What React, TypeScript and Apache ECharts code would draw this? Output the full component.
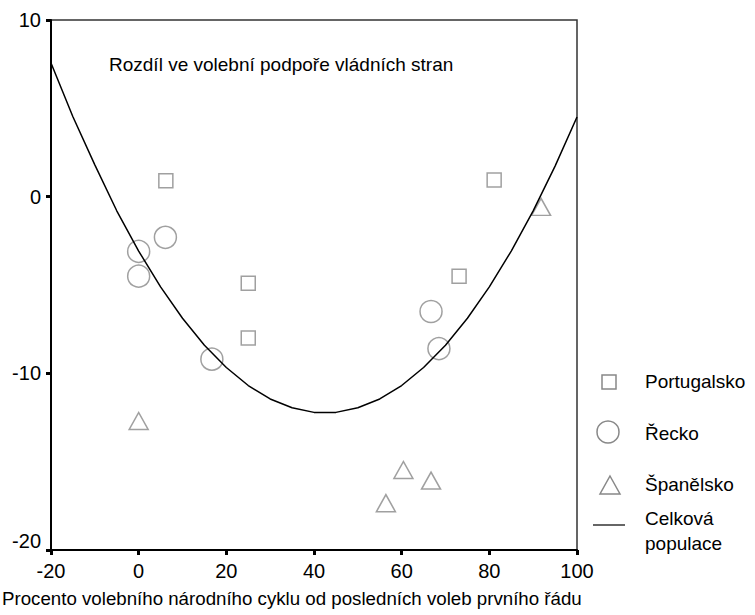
import React, { useEffect, useRef } from "react";
import * as echarts from "echarts";

const xTicks = [-20, 0, 20, 40, 60, 80, 100];
const yTicks = [-20, -10, 0, 10];

const portugalsko: [number, number][] = [
  [6.2, 0.9],
  [25, -4.9],
  [25, -8.0],
  [73.1, -4.5],
  [81.1, 0.95],
];
const recko: [number, number][] = [
  [0, -3.1],
  [0, -4.5],
  [6.1, -2.3],
  [16.7, -9.2],
  [66.7, -6.5],
  [68.5, -8.6],
];
const spanelsko: [number, number][] = [
  [0, -12.7],
  [56.4, -17.35],
  [60.4, -15.47],
  [66.7, -16.07],
  [91.8, -0.58],
];
// Celková populace – fitted curve every 5 units
const curveX = [-20, -15, -10, -5, 0, 5, 10, 15, 20, 25, 30, 35, 40, 45, 50, 55, 60, 65, 70, 75, 80, 85, 90, 95, 100];
const curveY = [7.57, 4.52, 1.8, -0.8, -3.08, -5.11, -6.88, -8.41, -9.67, -10.69, -11.45, -11.95, -12.21, -12.21, -11.95, -11.45, -10.69, -9.67, -8.41, -6.88, -5.11, -3.08, -0.8, 1.73, 4.51];

const titleText = "Rozdíl ve volební podpoře vládních stran";
const xName = "Procento volebního národního cyklu od posledních voleb prvního řádu";
const seriesNames = ["Portugalsko", "Řecko", "Španělsko", "Celková\npopulace"];

const FONT = '"Liberation Sans", Arial, sans-serif';
const MARK = "#888888";

export default function App() {
  const ref = useRef<HTMLDivElement>(null);
  useEffect(() => {
    if (!ref.current) return;
    const chart = echarts.init(ref.current, undefined, { renderer: "svg" });
    const curve = curveX.map((x, i) => [x, curveY[i]]);
    chart.setOption({
      animation: false,
      backgroundColor: "#fff",
      grid: {
        left: 51,
        top: 20,
        right: 178,
        bottom: 65,
        show: true,
        borderColor: "#333",
        borderWidth: 1.5,
      },
      xAxis: {
        type: "value",
        min: xTicks[0],
        max: xTicks[xTicks.length - 1],
        interval: 20,
        axisLine: { show: true, onZero: false, lineStyle: { color: "#000", width: 2 } },
        axisTick: { show: true, length: 5, lineStyle: { color: "#000", width: 3 } },
        axisLabel: { fontFamily: FONT, fontSize: 20, color: "#000", margin: 11 },
        splitLine: { show: false },
      },
      yAxis: {
        type: "value",
        min: yTicks[0],
        max: yTicks[yTicks.length - 1],
        interval: 10,
        axisLine: { show: true, onZero: false, lineStyle: { color: "#000", width: 2 } },
        axisTick: { show: true, length: 5, lineStyle: { color: "#000", width: 3 } },
        axisLabel: {
          fontFamily: FONT,
          fontSize: 20,
          color: "#000",
          margin: 10,
          formatter: (v: number) => (v === yTicks[0] ? `{low|${v}}` : `{n|${v}}`),
          rich: {
            n: { fontFamily: FONT, fontSize: 20, color: "#000" },
            low: { fontFamily: FONT, fontSize: 20, color: "#000", padding: [0, 0, 18, 0] },
          },
        },
        splitLine: { show: false },
      },
      series: [
        {
          name: seriesNames[0],
          type: "scatter",
          data: portugalsko,
          symbol: "rect",
          symbolSize: 14,
          itemStyle: { color: "transparent", borderColor: MARK, borderWidth: 1.5 },
        },
        {
          name: seriesNames[1],
          type: "scatter",
          data: recko,
          symbol: "circle",
          symbolSize: 22,
          itemStyle: { color: "transparent", borderColor: MARK, borderWidth: 1.5 },
        },
        {
          name: seriesNames[2],
          type: "scatter",
          data: spanelsko,
          symbol: "triangle",
          symbolSize: [19, 17],
          itemStyle: { color: "transparent", borderColor: MARK, borderWidth: 1.5 },
        },
        {
          name: seriesNames[3],
          type: "line",
          data: curve,
          smooth: false,
          showSymbol: false,
          lineStyle: { color: "#000", width: 1.5 },
        },
      ],
      graphic: [
        {
          type: "text",
          x: 109,
          y: 64,
          style: { text: titleText, font: `19px ${FONT}`, fill: "#000", verticalAlign: "middle" },
        },
        {
          type: "text",
          x: 2,
          y: 598,
          style: { text: xName, font: `18.7px ${FONT}`, fill: "#000", verticalAlign: "middle" },
        },
        // legend
        {
          type: "rect",
          shape: { x: 602, y: 375, width: 14, height: 14 },
          style: { fill: "none", stroke: MARK, lineWidth: 1.5 },
        },
        {
          type: "text",
          x: 645,
          y: 381,
          style: { text: seriesNames[0], font: `19px ${FONT}`, fill: "#000", verticalAlign: "middle" },
        },
        {
          type: "circle",
          shape: { cx: 608, cy: 432, r: 11 },
          style: { fill: "none", stroke: MARK, lineWidth: 1.5 },
        },
        {
          type: "text",
          x: 645,
          y: 433,
          style: { text: seriesNames[1], font: `19px ${FONT}`, fill: "#000", verticalAlign: "middle" },
        },
        {
          type: "polygon",
          shape: { points: [[610, 476], [620, 494], [600, 494]] },
          style: { fill: "none", stroke: MARK, lineWidth: 1.5 },
        },
        {
          type: "text",
          x: 645,
          y: 484,
          style: { text: seriesNames[2], font: `19px ${FONT}`, fill: "#000", verticalAlign: "middle" },
        },
        {
          type: "line",
          shape: { x1: 593, y1: 525, x2: 625, y2: 525 },
          style: { stroke: "#333", lineWidth: 1.5 },
        },
        {
          type: "text",
          x: 645,
          y: 531,
          style: {
            text: seriesNames[3],
            font: `19px ${FONT}`,
            fill: "#000",
            verticalAlign: "middle",
            lineHeight: 25,
          },
        },
      ],
    });
    return () => chart.dispose();
  }, []);
  return (
    <div
      ref={ref}
      style={{ position: "fixed", left: 0, top: 0, width: 755, height: 615, background: "#fff" }}
    />
  );
}
